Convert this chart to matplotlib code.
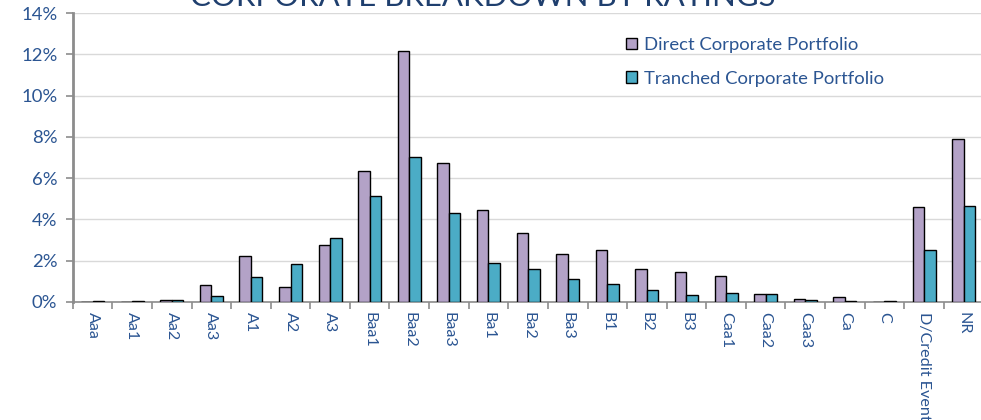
import matplotlib.pyplot as plt
import numpy as np
from matplotlib.ticker import MultipleLocator, FuncFormatter, FixedLocator

plt.rcParams['font.family'] = ['Lato', 'DejaVu Sans']

# Corporate holdings by rating, share of portfolio (%)
ratings = ['Aaa', 'Aa1', 'Aa2', 'Aa3', 'A1', 'A2', 'A3', 'Baa1', 'Baa2', 'Baa3',
           'Ba1', 'Ba2', 'Ba3', 'B1', 'B2', 'B3', 'Caa1', 'Caa2', 'Caa3', 'Ca',
           'C', 'D/Credit Event', 'NR']
direct = [0.0, 0.0, 0.10, 0.84, 2.23, 0.74, 2.75, 6.34, 12.15, 6.72,
          4.46, 3.34, 2.33, 2.50, 1.58, 1.44, 1.26, 0.37, 0.15, 0.24,
          0.0, 4.59, 7.88]
tranched = [0.05, 0.05, 0.10, 0.28, 1.21, 1.86, 3.12, 5.14, 7.01, 4.31,
            1.90, 1.58, 1.11, 0.89, 0.57, 0.32, 0.42, 0.37, 0.10, 0.05,
            0.05, 2.50, 4.64]

label_color = '#2B5592'
axis_gray = '#8C8C8C'

fig = plt.figure(figsize=(9.81, 4.2), dpi=100)
n = len(ratings)
ax = fig.add_axes([72.7 / 981, 118 / 420, (n * 39.6) / 981, 289 / 420])

x = np.arange(n)
w = 0.29
ax.bar(x - w / 2, direct, w, color='#B3A2C7', edgecolor='black', linewidth=1,
       label='Direct Corporate Portfolio', zorder=3)
ax.bar(x + w / 2, tranched, w, color='#4BACC6', edgecolor='black', linewidth=1,
       label='Tranched Corporate Portfolio', zorder=3)

ax.set_xlim(-0.5, n - 0.5)
ax.set_ylim(0, 14)
ax.yaxis.set_major_locator(MultipleLocator(2))
ax.yaxis.set_major_formatter(FuncFormatter(lambda v, _: f'{v:.0f}%'))
ax.grid(axis='y', color='#D9D9D9', linewidth=1, zorder=0)

# category labels centred, tick marks on the category boundaries
ax.set_xticks(x)
ax.set_xticklabels(ratings, rotation=-90, color=label_color, fontsize=11.6,
                   va='top', ha='center')
ax.tick_params(axis='x', which='major', length=0, pad=7)
ax.xaxis.set_minor_locator(FixedLocator(np.arange(-0.5, n, 1.0)))
ax.tick_params(axis='x', which='minor', length=5, width=1.2, color=axis_gray)
ax.tick_params(axis='y', length=5, width=1.2, color=axis_gray,
               labelcolor=label_color, labelsize=13.3, pad=6)

for side in ['top', 'right']:
    ax.spines[side].set_visible(False)
ax.spines['left'].set_color(axis_gray)
ax.spines['left'].set_linewidth(2)
ax.spines['bottom'].set_color(axis_gray)
ax.spines['bottom'].set_linewidth(1.2)

fig.legend(*ax.get_legend_handles_labels(), loc='upper left',
           bbox_to_anchor=(626 / 981, 1 - 37 / 420),
           frameon=False, fontsize=13.3, labelcolor=label_color,
           handlelength=0.6, handleheight=0.6, handletextpad=0.35,
           labelspacing=0.95, borderpad=0, borderaxespad=0)

fig.text(483 / 981, 1 - 6 / 420, 'CORPORATE BREAKDOWN BY RATINGS', ha='center',
         va='baseline', fontsize=22.4, color='#1F3F6E')

fig.savefig('out.png', dpi=100)
